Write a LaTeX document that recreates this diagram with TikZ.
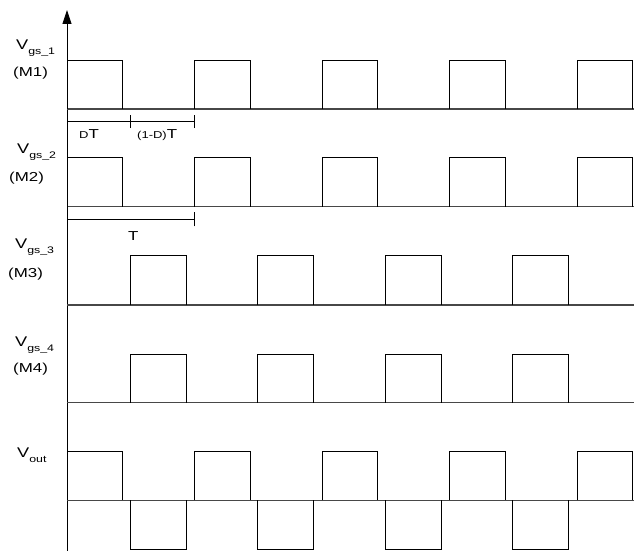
\documentclass[tikz,border=0pt]{standalone}
\usepackage{fontspec}
\setmainfont{Liberation Sans}
\usetikzlibrary{arrows.meta}
\newcommand{\hwide}[1]{\scalebox{1.3}[1]{#1}}
\newcommand{\fs}[1]{\fontsize{#1}{#1}\selectfont}
\newcommand{\vlab}[1]{\hwide{\fs{14}V}\raisebox{-5pt}{\hwide{\fs{9.5}#1}}}
\begin{document}
\begin{tikzpicture}[x=1pt,y=-1pt,
  wave/.style={line width=0.8pt, black},
  baseln/.style={line width=1.1pt, black!72},
  dimln/.style={line width=0.8pt, black},
  lbl/.style={inner sep=0pt, anchor=base west, font=\fs{13}}]
\useasboundingbox (0,0) rectangle (634,551);
% axis
\coordinate (axtop) at (67,10);
\coordinate (axbot) at (67,551);
\draw[line width=0.9pt, -{Triangle[length=14pt,width=9pt]}] (axbot) -- (axtop);
% baselines
\foreach \y in {109,206.7,305,402.7,500.3}{
  \draw[baseln] (67,\y) -- (634,\y);
}
% M1, M2 and Vout positive pulses
\foreach \s in {67,194.5,322,449.5,577}{
  \draw[wave] (\s,109) -- (\s,60) -- (\s+55.5,60) -- (\s+55.5,109);
  \draw[wave] (\s,206.7) -- (\s,157.7) -- (\s+55.5,157.7) -- (\s+55.5,206.7);
  \draw[wave] (\s,500.3) -- (\s,451.7) -- (\s+55.5,451.7) -- (\s+55.5,500.3);
}
% M3, M4 and Vout negative pulses
\foreach \s in {130,257.5,385,512.5}{
  \draw[wave] (\s,305) -- (\s,255.7) -- (\s+56,255.7) -- (\s+56,305);
  \draw[wave] (\s,402.7) -- (\s,354) -- (\s+56,354) -- (\s+56,402.7);
  \draw[wave] (\s,500.3) -- (\s,549) -- (\s+56,549) -- (\s+56,500.3);
}
% dimension lines
\coordinate (d0) at (67,121.7);
\coordinate (d1) at (130,121.7);
\coordinate (d2) at (194.5,121.7);
\draw[dimln] (d0) -- (d2);
\draw[dimln] ([yshift=-6.5pt]d1) -- ([yshift=6.5pt]d1);
\draw[dimln] ([yshift=-6.5pt]d2) -- ([yshift=6.5pt]d2);
\coordinate (p0) at (67,219.3);
\coordinate (p1) at (194.5,219.3);
\draw[dimln] (p0) -- (p1);
\draw[dimln] ([yshift=-7pt]p1) -- ([yshift=7pt]p1);
% labels
\node[lbl] (v1) at (16,49.5) {\vlab{gs\_1}};
\node[lbl] (m1) at (13,76.5) {\hwide{(M1)}};
\node[lbl] (v2) at (17,153) {\vlab{gs\_2}};
\node[lbl] (m2) at (9,181) {\hwide{(M2)}};
\node[lbl] (v3) at (15,248) {\vlab{gs\_3}};
\node[lbl] (m3) at (8,277) {\hwide{(M3)}};
\node[lbl] (v4) at (15,346) {\vlab{gs\_4}};
\node[lbl] (m4) at (13,372) {\hwide{(M4)}};
\node[lbl] (vo) at (17,457) {\vlab{out}};
\node[lbl] (dt) at (79,138.5) {\hwide{\fs{10}D}\hwide{\fs{13}T}};
\node[lbl] (odt) at (137,138.5) {\hwide{\fs{10}(1-D)}\hwide{\fs{13}T}};
\node[lbl] (tt) at (128,240.5) {\hwide{\fs{13}T}};
\end{tikzpicture}
\end{document}
